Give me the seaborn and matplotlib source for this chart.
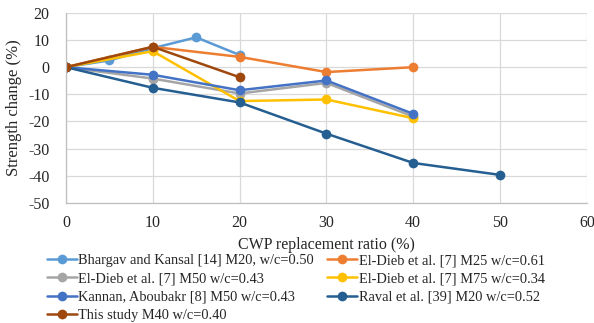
import matplotlib
matplotlib.use("Agg")
import matplotlib.pyplot as plt
import seaborn as sns
import pandas as pd

labels = [
    "Bhargav and Kansal [14] M20, w/c=0.50",
    "El-Dieb et al. [7] M25 w/c=0.61",
    "El-Dieb et al. [7] M50 w/c=0.43",
    "El-Dieb et al. [7] M75 w/c=0.34",
    "Kannan, Aboubakr [8] M50 w/c=0.43",
    "Raval et al. [39] M20 w/c=0.52",
    "This study M40 w/c=0.40",
]
x_bhargav = [0, 5, 10, 15, 20]
y_bhargav = [0, 2.5, 7, 11, 4.5]
x_eldieb25 = [0, 10, 20, 30, 40]
y_eldieb25 = [0, 7.5, 3.8, -1.8, 0]
x_eldieb50 = [0, 10, 20, 30, 40]
y_eldieb50 = [0, -4.2, -9.7, -5.8, -18.2]
x_eldieb75 = [0, 10, 20, 30, 40]
y_eldieb75 = [0, 5.9, -12.5, -11.9, -18.8]
x_kannan = [0, 10, 20, 30, 40]
y_kannan = [0, -2.8, -8.5, -4.9, -17.2]
x_raval = [0, 10, 20, 30, 40, 50]
y_raval = [0, -7.6, -13.0, -24.5, -35.3, -39.7]
x_study = [0, 10, 20]
y_study = [0, 7.5, -3.7]
colors = ["#5B9BD5", "#ED7D31", "#A5A5A5", "#FFC000", "#4472C4", "#255E91", "#9E480E"]

xs = [x_bhargav, x_eldieb25, x_eldieb50, x_eldieb75, x_kannan, x_raval, x_study]
ys = [y_bhargav, y_eldieb25, y_eldieb50, y_eldieb75, y_kannan, y_raval, y_study]
frames = []
for lab, xx, yy in zip(labels, xs, ys):
    frames.append(pd.DataFrame({"x": xx, "y": yy, "series": lab}))
df = pd.concat(frames, ignore_index=True)

sns.set_style("white")
plt.rcParams['font.family'] = ['Liberation Serif', 'DejaVu Serif']
plt.rcParams['font.serif'] = ['Liberation Serif', 'DejaVu Serif']
plt.rcParams['axes.unicode_minus'] = False

fig = plt.figure(figsize=(5.94, 3.23), dpi=100)
ax = fig.add_axes([0.111, 0.372, 0.877, 0.588])
sns.lineplot(data=df, x="x", y="y", hue="series", hue_order=labels,
             palette=colors, marker="o", markersize=7, markeredgewidth=0,
             linewidth=1.8, sort=False, ax=ax, legend=True)

ax.set_xlim(0, 60)
ax.set_ylim(-50, 20)
ax.set_xticks(range(0, 61, 10))
ax.set_yticks(range(-50, 21, 10))
ax.grid(True, color="#D9D9D9", linewidth=0.9)
ax.set_axisbelow(True)
for s in ["top", "right"]:
    ax.spines[s].set_visible(False)
for s in ["left", "bottom"]:
    ax.spines[s].set_color("#BFBFBF")
    ax.spines[s].set_linewidth(0.9)
ax.tick_params(axis="both", length=0, labelsize=11.5, labelfontfamily='Liberation Serif')
ax.tick_params(axis="x", pad=9)
ax.tick_params(axis="y", pad=12)
ax.set_xlabel("CWP replacement ratio (%)", fontsize=11.5, labelpad=4)
ax.set_ylabel("Strength change (%)", fontsize=12, labelpad=4)

h, l = ax.get_legend_handles_labels()
ax.get_legend().remove()
order = [0, 2, 4, 6, 1, 3, 5]
fig.legend([h[i] for i in order], [l[i] for i in order], loc="upper left",
           bbox_to_anchor=(47 / 594, 1 - 254 / 323), ncol=2,
           frameon=False, fontsize=10.4, handlelength=2.1, handletextpad=0.08,
           columnspacing=0.9, labelspacing=0.36, borderpad=0, borderaxespad=0)

fig.savefig("out.png", dpi=100)
